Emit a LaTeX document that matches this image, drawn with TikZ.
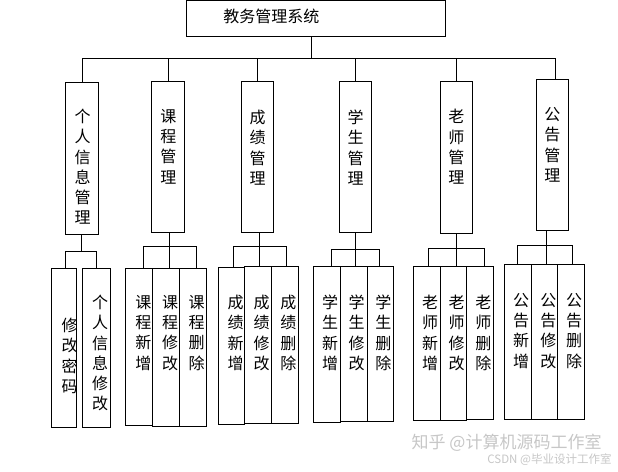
\documentclass[tikz,border=0pt]{standalone}
\usepackage{fontspec}
\newfontfamily\cjk{Noto Sans CJK SC}
\usetikzlibrary{fit}
\tikzset{
  box/.style={draw=black, line width=0.9pt, inner sep=0pt},
  vtxt/.style={font=\cjk\fontsize{16}{20.3}\selectfont, align=center, inner sep=0pt, anchor=north},
  link/.style={draw=black, line width=0.9pt},
  wm/.style={text=black!22, inner sep=0pt},
}
\newcommand\bx[5]{\node[box, fit={(#2,#3) (#4,#5)}] (#1) {};}
\newcommand\vt[4]{\node[vtxt] (#1) at (#2,#3-7.2) {#4};}
\begin{document}
\begin{tikzpicture}[x=1pt,y=-1pt]
\fill[white] (0,0) rectangle (618,471);
\useasboundingbox (0,0) rectangle (618,471);

% top
\bx{T}{186.3}{0.5}{445.3}{36}
\node[font=\cjk\fontsize{16}{16}\selectfont, inner sep=0pt] (t0) at (271.3,16) {教务管理系统};

% level 2
\bx{A1}{65.3}{82}{98.7}{234}
\bx{A2}{151.3}{81}{184.3}{232}
\bx{A3}{241.3}{81}{273.7}{232.7}
\bx{A4}{339.3}{81}{371.7}{232.7}
\bx{A5}{440.3}{81}{472.3}{233.3}
\bx{A6}{536.3}{79.3}{568.3}{230.3}
\vt{a1}{82.7}{116}{个\\人\\信\\息\\管\\理}
\vt{a2}{168.3}{116}{课\\程\\管\\理}
\vt{a3}{257.5}{117}{成\\绩\\管\\理}
\vt{a4}{355.5}{117}{学\\生\\管\\理}
\vt{a5}{456.3}{116.5}{老\\师\\管\\理}
\vt{a6}{552.3}{114.5}{公\\告\\管\\理}

% level 3
\bx{B11}{51.3}{268.3}{76.7}{427.3}
\bx{B12}{82.7}{268.3}{110.3}{427.3}
\bx{B21}{125.3}{268.3}{152.7}{425}
\bx{B22}{152.7}{268.3}{179.7}{426.3}
\bx{B23}{179.7}{268.3}{206.3}{426.3}
\bx{B31}{218.3}{267.3}{244.3}{424}
\bx{B32}{244.3}{266.3}{271.7}{423.3}
\bx{B33}{271.7}{266.3}{298.3}{423.3}
\bx{B41}{313.7}{266}{340.3}{422.3}
\bx{B42}{340.3}{266}{367.7}{421}
\bx{B43}{367.7}{266}{393.3}{421}
\bx{B51}{413.7}{266}{440.7}{420}
\bx{B52}{440.7}{266}{466.7}{420}
\bx{B53}{466.7}{266}{493.3}{419}
\bx{B61}{504.3}{264}{531.7}{419}
\bx{B62}{531.7}{264}{557.7}{419}
\bx{B63}{557.7}{264}{584.3}{419}

\vt{b11}{69.5}{325}{修\\改\\密\\码}
\vt{b12}{100}{302}{个\\人\\信\\息\\修\\改}
\vt{b21}{143.3}{302}{课\\程\\新\\增}
\vt{b22}{170}{302}{课\\程\\修\\改}
\vt{b23}{196.7}{302}{课\\程\\删\\除}
\vt{b31}{235.7}{302}{成\\绩\\新\\增}
\vt{b32}{261.7}{302}{成\\绩\\修\\改}
\vt{b33}{288.3}{302}{成\\绩\\删\\除}
\vt{b41}{330}{302}{学\\生\\新\\增}
\vt{b42}{356.7}{302}{学\\生\\修\\改}
\vt{b43}{383.3}{302}{学\\生\\删\\除}
\vt{b51}{430}{302}{老\\师\\新\\增}
\vt{b52}{456.7}{302}{老\\师\\修\\改}
\vt{b53}{483.3}{302}{老\\师\\删\\除}
\vt{b61}{521}{300}{公\\告\\新\\增}
\vt{b62}{548.3}{300}{公\\告\\修\\改}
\vt{b63}{574}{300}{公\\告\\删\\除}

% connectors level 1
\coordinate (j0) at (311.7,58.3);
\draw[link] (T.south -| j0) -- (j0);
\draw[link] (j0) -| (A1.north);
\draw[link] (j0) -| ([xshift=0.9pt]A2.north);
\draw[link] (j0) -| (A3.north);
\draw[link] (j0) -| (A4.north);
\draw[link] (j0) -| (A5.north);
\draw[link] (j0) -| ([xshift=3.4pt]A6.north);

% connectors level 2
\coordinate (j1) at (81.7,251.7);
\draw[link] (A1.south -| j1) -- (j1);
\draw[link] (j1) -| ([xshift=1.3pt]B11.north);
\draw[link] (j1) -| ([xshift=-0.2pt]B12.north);

\coordinate (j2) at (169.3,246);
\draw[link] (A2.south -| j2) -- (B22.north -| j2);
\draw[link] (j2) -| ([xshift=4.7pt]B21.north);
\draw[link] (j2) -| ([xshift=3.3pt]B23.north);

\coordinate (j3) at (259.5,246);
\draw[link] (A3.south -| j3) -- (B32.north -| j3);
\draw[link] (j3) -| ([xshift=2.4pt]B31.north);
\draw[link] (j3) -| ([xshift=1.3pt]B33.north);

\coordinate (j4) at (355.5,249.3);
\draw[link] (A4.south -| j4) -- (B42.north -| j4);
\draw[link] (j4) -| ([xshift=4.7pt]B41.north);
\draw[link] (j4) -| ([xshift=-1.2pt]B43.north);

\coordinate (j5) at (456.7,248.3);
\draw[link] (A5.south -| j5) -- (B52.north -| j5);
\draw[link] (j5) -| ([xshift=1.1pt]B51.north);
\draw[link] (j5) -| ([xshift=4.3pt]B53.north);

\coordinate (j6) at (546.5,245.7);
\draw[link] (A6.south -| j6) -- (B62.north -| j6);
\draw[link] (j6) -| ([xshift=-0.3pt]B61.north);
\draw[link] (j6) -| ([xshift=1.7pt]B63.north);

% watermark
\node[wm, font=\cjk\fontsize{17}{17}\selectfont, anchor=east] (w1) at (601.7,443) {知乎 @计算机源码工作室};
\node[wm, font=\cjk\fontsize{11.5}{11.5}\selectfont, anchor=east] (w2) at (611.7,459.3) {CSDN @毕业设计工作室};
\end{tikzpicture}
\end{document}
